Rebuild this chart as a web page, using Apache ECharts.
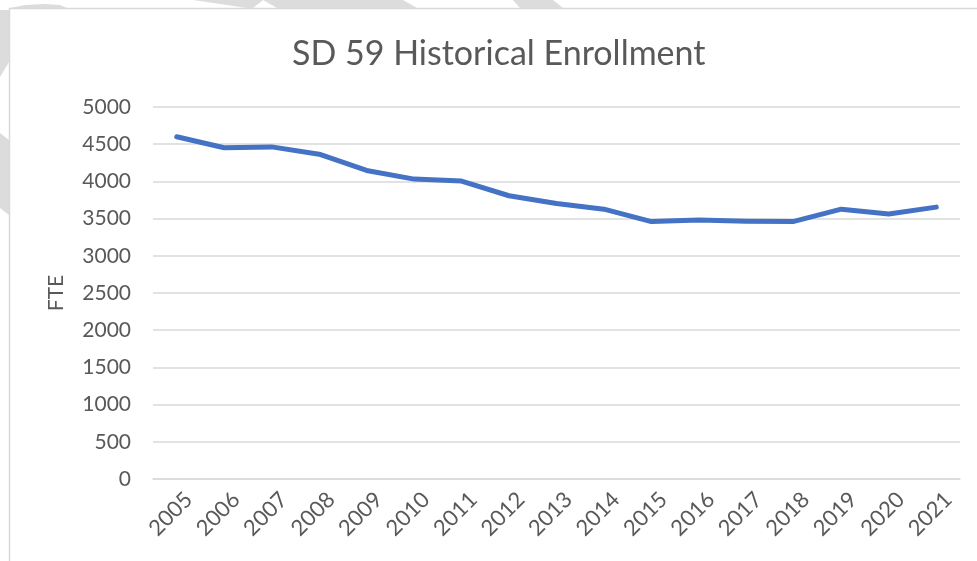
<!DOCTYPE html>
<html>
<head>
<meta charset="utf-8">
<script src="https://cdn.jsdelivr.net/npm/echarts@6/dist/echarts.min.js"></script>
<style>
html,body{margin:0;padding:0;background:#fff;}
#c{width:977px;height:561px;}
</style>
</head>
<body>
<div id="c"></div>
<script>
const years = ['2005','2006','2007','2008','2009','2010','2011','2012','2013','2014','2015','2016','2017','2018','2019','2020','2021'];
const fte = [4600, 4452, 4464, 4366, 4147, 4031, 4004, 3807, 3702, 3627, 3460, 3480, 3465, 3462, 3627, 3563, 3654];
const yTicks = [0, 500, 1000, 1500, 2000, 2500, 3000, 3500, 4000, 4500, 5000];
const titleText = 'SD 59 Historical Enrollment';
const yName = 'FTE';

const chart = echarts.init(document.getElementById('c'), null, {renderer: 'canvas'});
const gray = '#dcdcdc';
chart.setOption({
  backgroundColor: '#ffffff',
  animation: false,
  graphic: [
    {type: 'polygon', silent: true, shape: {points: [[193,0],[263,0],[253,8],[247,8]]}, style: {fill: gray}},
    {type: 'polygon', silent: true, shape: {points: [[263,0],[403,0],[417,8],[277,8]]}, style: {fill: gray}},
    {type: 'polygon', silent: true, shape: {points: [[513,0],[553,0],[563,8],[520,8]]}, style: {fill: gray}},
    {type: 'polygon', silent: true, shape: {points: [[10,8],[25,5],[45,4],[60,5],[67,8]]}, style: {fill: gray}},
    {type: 'polygon', silent: true, shape: {points: [[0,10],[9,10],[9,62],[0,77]]}, style: {fill: gray}},
    {type: 'polygon', silent: true, shape: {points: [[0,133],[9,140],[9,215],[0,208]]}, style: {fill: gray}},
    {type: 'rect', silent: true, shape: {x: 9.5, y: 8.5, width: 1000, height: 600}, style: {fill: null, stroke: '#d9d9d9', lineWidth: 1.5}}
  ],
  title: {
    text: titleText,
    left: 287,
    top: 32,
    textStyle: {color: '#595959', fontFamily: 'Lato', fontSize: 34, fontWeight: 'normal'}
  },
  grid: {left: 153, right: 17, top: 107, bottom: 82, containLabel: false},
  xAxis: {
    type: 'category',
    data: years,
    boundaryGap: true,
    axisLine: {show: true, lineStyle: {color: '#d9d9d9', width: 1.5}},
    axisTick: {show: false},
    axisLabel: {
      rotate: 45, margin: 5, lineHeight: 34,
      color: '#595959', fontFamily: 'Lato', fontSize: 22, interval: 0,
      formatter: function (v) { return '\n' + v; }
    }
  },
  yAxis: {
    type: 'value',
    min: yTicks[0],
    max: yTicks[yTicks.length - 1],
    interval: 500,
    name: yName,
    nameLocation: 'middle',
    nameGap: 86,
    nameRotate: 90,
    nameTextStyle: {color: '#595959', fontFamily: 'Lato', fontSize: 21},
    axisLine: {show: false},
    axisTick: {show: false},
    axisLabel: {margin: 22, color: '#595959', fontFamily: 'Lato', fontSize: 21, formatter: function (v) { return String(v); }},
    splitLine: {lineStyle: {color: '#d9d9d9', width: 1.5}}
  },
  series: [{
    type: 'line',
    data: fte,
    showSymbol: false,
    symbol: 'none',
    lineStyle: {color: '#4472C4', width: 5, cap: 'round', join: 'round'},
    itemStyle: {color: '#4472C4'}
  }]
});
</script>
</body>
</html>
